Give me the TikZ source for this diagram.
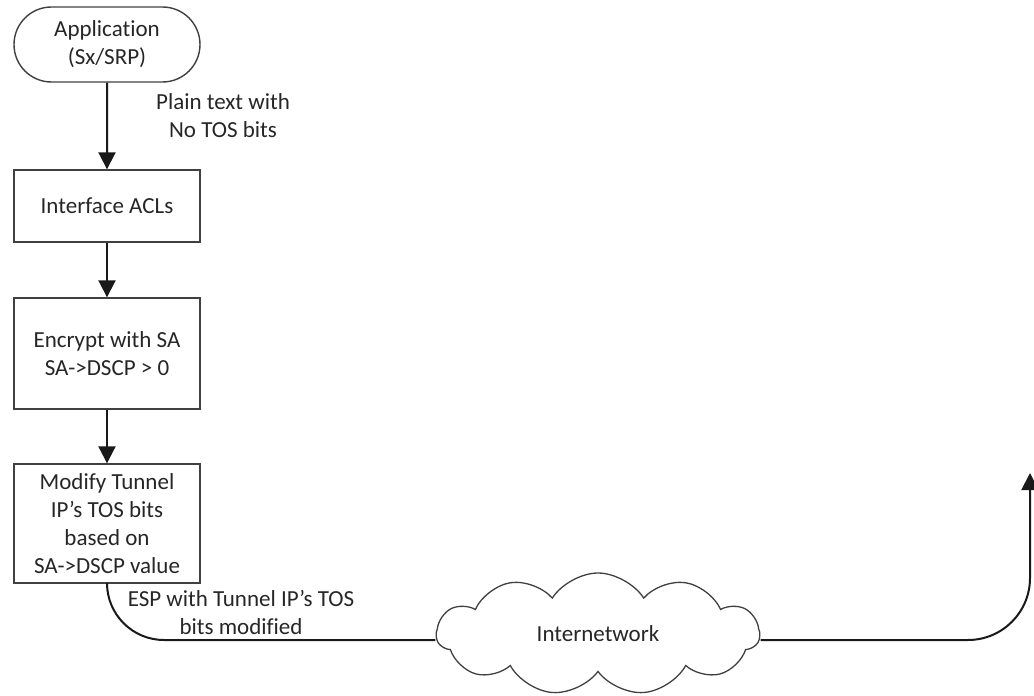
\documentclass[tikz,border=0pt]{standalone}
\usepackage{fontspec}
\setmainfont{Carlito}[Ligatures=NoCommon]
\usetikzlibrary{shapes.misc,shapes.symbols,arrows.meta}
\begin{document}
\begin{tikzpicture}[x=1pt,y=-1pt,
  txt/.style={font=\fontsize{23}{28}\selectfont, text=black!85, align=center, inner sep=0pt},
  procbox/.style={txt, draw=black!75, line width=1.4pt, minimum width=186pt},
  flow/.style={line width=2pt, black!90, -{Triangle[width=17pt,length=17pt]}},
  plainline/.style={line width=2pt, black!90}]
\useasboundingbox (0,0) rectangle (1034,696);
\node[procbox, rounded rectangle, minimum height=75pt] (app) at (107,44.5) {Application\\(Sx/SRP)};
\node[procbox, minimum height=72pt] (acl) at (107,206) {Interface ACLs};
\node[procbox, minimum height=111pt] (enc) at (107,353.5) {Encrypt with SA\\SA->DSCP > 0};
\node[procbox, minimum height=119pt] (mod) at (107,523.5) {Modify Tunnel\\IP’s TOS bits\\based on\\SA->DSCP value};
\node[txt] (lab1) at (223,116) {Plain text with\\No TOS bits};
\node[txt] (lab2) at (241,612) {ESP with Tunnel IP’s TOS\\bits modified};
\node[cloud, cloud puffs=11, cloud puff arc=115, aspect=2.65, draw=black!75, line width=1.3pt,
  minimum width=323pt, minimum height=122pt, inner sep=0pt, font=\fontsize{23}{28}\selectfont, text=black!85] (net) at (598,634) {Internetwork};
\coordinate (tip) at (1030,473);
\draw[flow] (app) -- (acl);
\draw[flow] (acl) -- (enc);
\draw[flow] (enc) -- (mod);
\draw[plainline, rounded corners=57pt] (mod.south) |- ([yshift=-6pt]net.west);
\draw[flow, rounded corners=62pt] ([yshift=-6pt]net.east) -| (tip);
\end{tikzpicture}
\end{document}
